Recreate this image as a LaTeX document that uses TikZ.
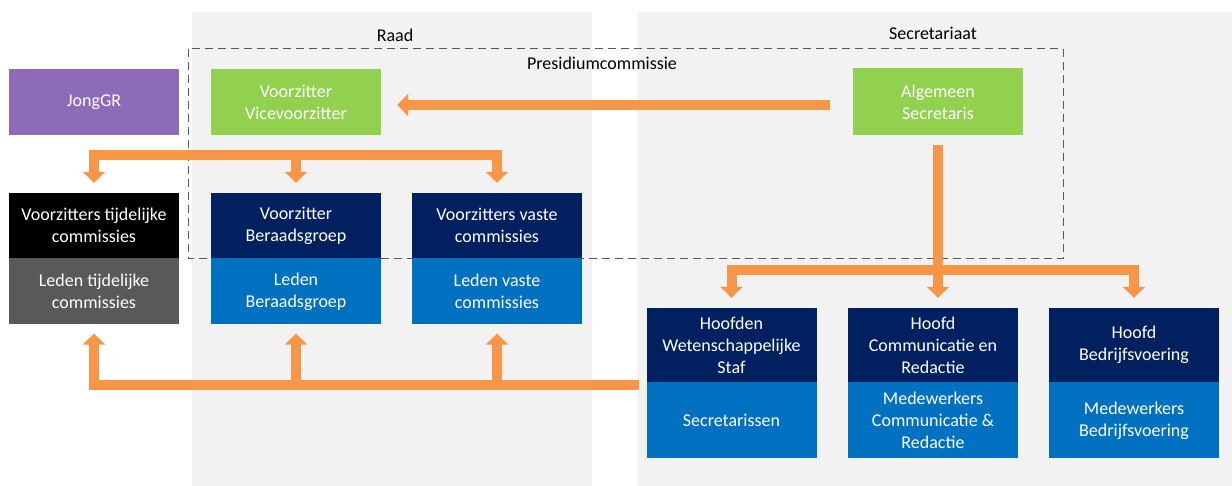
\documentclass[tikz,border=0pt]{standalone}
\usepackage{fontspec}
\setmainfont{Carlito}
\usetikzlibrary{arrows.meta,positioning}
\definecolor{oranje}{HTML}{F79646}
\definecolor{paars}{HTML}{8D6BB8}
\definecolor{groen}{HTML}{92D050}
\definecolor{navy}{HTML}{002060}
\definecolor{blauw}{HTML}{0070C0}
\definecolor{grijs}{HTML}{595959}
\definecolor{paneel}{HTML}{F2F2F2}

\begin{document}
\begin{tikzpicture}[x=1pt,y=-1pt,
	blok/.style={minimum width=170pt,inner sep=0pt,text=white,align=center,font=\fontsize{18}{22}\selectfont},
	kop/.style={font=\fontsize{18}{22}\selectfont},
	balk/.style={oranje,line width=10pt},
	pijl/.style={balk,-{Triangle[length=11pt,width=22pt]}}]
			\useasboundingbox (0,0) rectangle (1232,486);
			\fill[paneel] (192,12) rectangle (592,486);
			\fill[paneel] (637,12) rectangle (1232,486);
			\draw[black!65,line width=1pt,dash pattern=on 8pt off 5pt] (188,49) rectangle (1063,259);

			\node[kop] (raad) at (395,35) {Raad};
			\node[kop] (secr) at (933,33) {Secretariaat};
			\node[kop] (pres) at (602,63) {Presidiumcommissie};

			\node[blok,fill=paars,minimum height=66pt] (jong) at (94,102) {JongGR};
			\node[blok,fill=groen,minimum height=66pt] (vz) at (296,102) {Voorzitter\\Vicevoorzitter};
			\node[blok,fill=groen,minimum height=67pt] (alg) at (938,102) {Algemeen\\Secretaris};

			\node[blok,fill=black,minimum height=65pt] (vzTijd) at (94,225.5) {Voorzitters tijdelijke\\commissies};
			\node[blok,fill=grijs,minimum height=66pt,below=0pt of vzTijd] (ledTijd) {Leden tijdelijke\\commissies};
			\node[blok,fill=navy,minimum height=65pt] (vzBer) at (296,225.5) {Voorzitter\\Beraadsgroep};
			\node[blok,fill=blauw,minimum height=66pt,below=0pt of vzBer] (ledBer) {Leden\\Beraadsgroep};
			\node[blok,fill=navy,minimum height=65pt] (vzVaste) at (497,225.5) {Voorzitters vaste\\commissies};
			\node[blok,fill=blauw,minimum height=66pt,below=0pt of vzVaste] (ledVaste) {Leden vaste\\commissies};

			\node[blok,fill=navy,minimum height=74pt] (hWet) at (731.5,345) {Hoofden\\Wetenschappelijke\\Staf};
			\node[blok,fill=blauw,minimum height=76pt,below=0pt of hWet] (secrs) {Secretarissen};
			\node[blok,fill=navy,minimum height=74pt] (hCom) at (933,345) {Hoofd\\Communicatie en\\Redactie};
			\node[blok,fill=blauw,minimum height=76pt,below=0pt of hCom] (medCom) {Medewerkers\\Communicatie \&\\Redactie};
			\node[blok,fill=navy,minimum height=74pt] (hBed) at (1134,345) {Hoofd\\Bedrijfsvoering};
			\node[blok,fill=blauw,minimum height=76pt,below=0pt of hBed] (medBed) {Medewerkers\\Bedrijfsvoering};

			\draw[pijl,shorten <=23pt,shorten >=16pt] ([yshift=-3pt]alg.west) -- ([yshift=-3pt]vz.east);

			\coordinate (busT) at (296,155);
			\foreach \n in {vzTijd,vzBer,vzVaste} \draw[pijl,shorten >=10pt] (busT) -| (\n.north);

			\coordinate (busR) at (938,270);
			\draw[balk,shorten <=9pt] (alg.south) -- (busR);
			\foreach \n in {hWet,hBed} \draw[pijl,shorten >=10pt] (busR) -| (\n.north);
			\draw[pijl,shorten >=10pt] (busR) -- (busR |- hCom.north);

			\coordinate (busB) at (639,385);
			\foreach \n in {ledTijd,ledBer,ledVaste} \draw[pijl,shorten >=9pt] (busB) -| (\n.south);
\end{tikzpicture}
\end{document}
